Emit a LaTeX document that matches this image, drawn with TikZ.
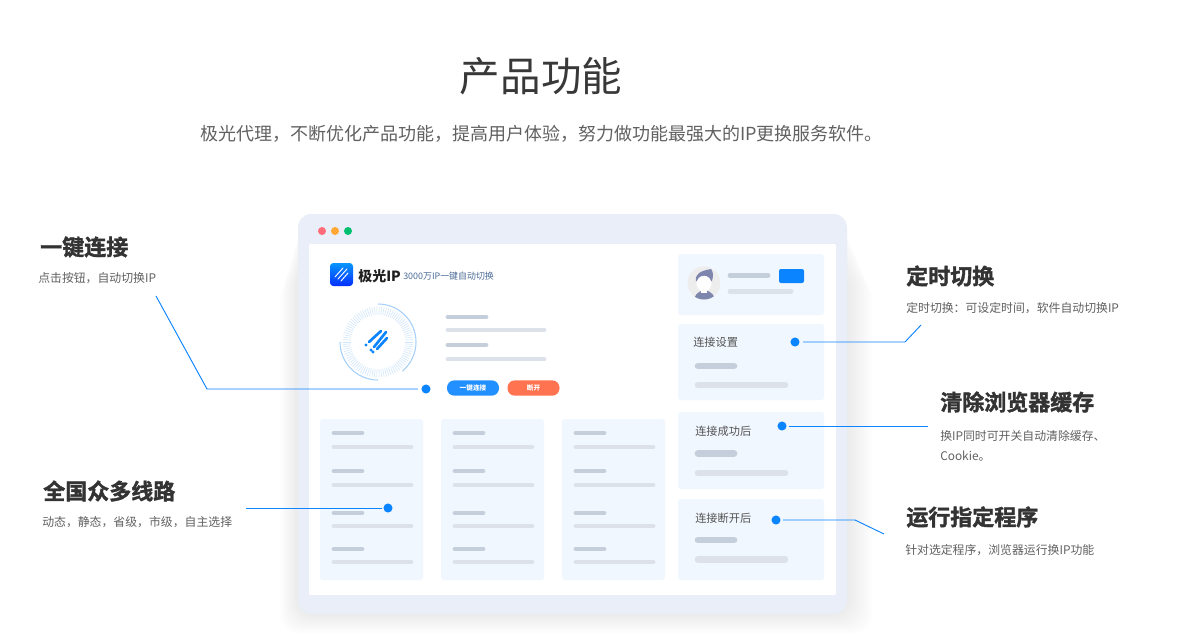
\documentclass[tikz,border=0pt]{standalone}
\usepackage{fontspec}
\setmainfont{Noto Sans CJK SC}
\newfontfamily\headfont[FakeBold=1.6]{Noto Sans CJK SC Bold}

\definecolor{framebg}{HTML}{E9EEF8}
\definecolor{panelbg}{HTML}{F1F7FF}
\definecolor{linkblue}{HTML}{0A84FF}
\definecolor{barone}{HTML}{C5CEDB}
\definecolor{bartwo}{HTML}{DDE2EA}
\definecolor{ringblue}{HTML}{A5D0F8}
\definecolor{hairblue}{HTML}{7F86AE}
\definecolor{dotred}{HTML}{FF6B78}
\definecolor{dotamber}{HTML}{FFA733}
\definecolor{dotgreen}{HTML}{00BF6F}
\definecolor{cutorange}{HTML}{FF7350}
\definecolor{slogantext}{HTML}{4A6A96}

\begin{document}
\begin{tikzpicture}[x=0.75pt,y=-0.75pt,
        panel/.style={fill=panelbg,rounded corners=2pt},
        headbar/.style={barone,line width=3.6pt,line cap=round},
        textbar/.style={bartwo,line width=3.6pt,line cap=round},
        headbarwide/.style={barone,line width=5pt,line cap=round},
        textbarwide/.style={bartwo,line width=5pt,line cap=round},
        link/.style={linkblue,line width=0.7pt},
        dot/.style={circle,fill=linkblue,inner sep=0pt,minimum size=6.8pt},
        headline/.style={anchor=west,inner sep=0pt,text=black!80,font=\headfont\fontsize{16.5}{20}\selectfont},
        note/.style={anchor=west,inner sep=0pt,text=black!62,font=\fontsize{8.9}{10}\selectfont},
        cardtitle/.style={anchor=west,inner sep=0pt,text=black!68,font=\fontsize{8.4}{10}\selectfont},
        pill/.style={rounded corners=5.5pt,minimum width=39pt,minimum height=11.5pt,inner sep=0pt,text=white,font=\bfseries\fontsize{5}{6}\selectfont}]
    \useasboundingbox (0,0) rectangle (1200,640);
    \fill[white] (0,0) rectangle (1200,640);

    % title
    \node[inner sep=0pt,text=black!78,font=\fontsize{30.4}{36}\selectfont] (title) at (541,76) {产品功能};
    \node[inner sep=0pt,text=black!62,font=\fontsize{13.5}{16}\selectfont] (subtitle) at (541.5,134)
        {极光代理，不断优化产品功能，提高用户体验，努力做功能最强大的IP更换服务软件。};

    % window
    \foreach \i in {1,...,20}
        \fill[black,opacity=0.005,rounded corners=14pt] (298-\i*0.9,222+\i*3) rectangle (847+\i*1.3,614+\i*1);
    \fill[framebg,rounded corners=10pt] (298,214) rectangle (847,614);
    \fill[white,rounded corners=1pt] (309,244) rectangle (836,595);
    \fill[dotred] (322,231) circle (3pt);
    \fill[dotamber] (335,231) circle (3pt);
    \fill[dotgreen] (348,231) circle (3pt);

    % logo
    \shade[top color=linkblue!85!cyan,bottom color=blue!65!linkblue,rounded corners=2.5pt] (330,263) rectangle (353,286);
    \draw[white,line width=0.7pt,line cap=round] (335,277) -- (343,268);
    \draw[white,line width=0.7pt,line cap=round] (338,279) -- (347,269);
    \draw[white,line width=0.7pt,line cap=round] (341,281) -- (348,273);
    \node[anchor=west,inner sep=0pt,text=black!88,font=\bfseries\fontsize{10.5}{12}\selectfont] (logotext) at (358,276) {极光IP};
    \node[anchor=west,inner sep=0pt,text=slogantext,font=\fontsize{6.7}{8}\selectfont] (slogan) at (403,276) {3000万IP一键自动切换};

    % dial
    \foreach \t in {0,4,...,356}
        \draw[ringblue!55,line width=0.4pt] (378,342) ++(\t:20.5pt) -- ++(\t:6pt);
    \draw[ringblue,line width=0.8pt] (378,342) ++(90:28.5pt) arc[start angle=90,end angle=-50,radius=28.5pt];
    \draw[ringblue,line width=0.8pt] (378,342) ++(-90:28.5pt) arc[start angle=-90,end angle=-180,radius=28.5pt];
    \draw[linkblue,line width=2pt,line cap=round] (369,342) -- (381,331);
    \draw[linkblue,line width=2pt,line cap=round] (374,347) -- (386,332);
    \draw[linkblue,line width=2pt,line cap=round] (377,349) -- (387,338);
    \fill[linkblue] (366,345) circle (1.2pt) (371,350) circle (1.2pt) (373,352) circle (1.2pt);

    % status bars
    \draw[headbar] (448,317) -- (486,317);
    \draw[textbar] (448,330) -- (544,330);
    \draw[headbar] (448,345) -- (486,345);
    \draw[textbar] (448,359) -- (544,359);
    \node[pill,fill=linkblue!90!white] (connect) at (473,388) {一键连接};
    \node[pill,fill=cutorange] (cut) at (533.5,388) {断开};

    % line cards
    \foreach \x in {320,441,562} {
        \fill[panel] (\x,419) rectangle (\x+103,580);
        \foreach \y/\z in {433/447,471/485,513/526,549/562} {
            \draw[headbar] (\x+14,\y) -- (\x+42,\y);
            \draw[textbar] (\x+14,\z) -- (\x+91,\z);
        }
    }

    % right panels
    \fill[panel] (678,254) rectangle (824,315);
    \fill[panel] (678,324) rectangle (824,400);
    \fill[panel] (678,412) rectangle (824,489);
    \fill[panel] (678,499) rectangle (824,580);
    \begin{scope}
        \clip (704,283) circle (12.4pt);
        \fill[black!7] (704,283) circle (12.4pt);
        \fill[hairblue] (704.5,303) ellipse (8.4pt and 9.5pt);
        \fill[hairblue] (696,281) .. controls (695,274) and (700,271) .. (711,269) .. controls (714,273) and (713,277) .. (712,281) -- cycle;
        \fill[white] (704,283.5) ellipse (5.6pt and 5.8pt);
        \fill[white] (701,286) rectangle (707,293);
    \end{scope}
    \draw[headbar] (730,275.5) -- (768,275.5);
    \draw[textbar] (730,291.5) -- (791,291.5);
    \fill[linkblue,rounded corners=1.5pt] (779,269) rectangle (804,283);
    \node[cardtitle] (setting) at (693,342) {连接设置};
    \node[cardtitle] (success) at (695,431) {连接成功后};
    \node[cardtitle] (broken) at (695,518) {连接断开后};
    \draw[headbarwide] (698,366) -- (734,366);
    \draw[textbarwide] (698,385) -- (785,385);
    \draw[headbarwide] (698,453.5) -- (734,453.5);
    \draw[textbarwide] (698,473) -- (785,473);
    \draw[headbarwide] (698,540) -- (734,540);
    \draw[textbarwide] (698,559.5) -- (785,559.5);

    % labels
    \node[headline] (keyhead) at (40,247) {一键连接};
    \node[note] (keynote) at (38,278) {点击按钮，自动切换IP};
    \node[headline] (linehead) at (43,491) {全国众多线路};
    \node[note] (linenote) at (42,522) {动态，静态，省级，市级，自主选择};
    \node[headline] (timehead) at (906,276) {定时切换};
    \node[note] (timenote) at (906,308) {定时切换：可设定时间，软件自动切换IP};
    \node[headline] (clearhead) at (940,402) {清除浏览器缓存};
    \node[note] (clearnote) at (940,436) {换IP同时可开关自动清除缓存、};
    \node[note] (clearnotetwo) at (940,456) {Cookie。};
    \node[headline] (runhead) at (906,517) {运行指定程序};
    \node[note] (runnote) at (905,550) {针对选定程序，浏览器运行换IP功能};

    % connectors
    \node[dot] (keydot) at (426,389) {};
    \node[dot] (linedot) at (388,508) {};
    \node[dot] (timedot) at (795,342) {};
    \node[dot] (cleardot) at (782,426) {};
    \node[dot] (rundot) at (776,520) {};
    \coordinate (keyend) at (156,296);
    \coordinate (keybend) at (207,389);
    \coordinate (lineend) at (246,508);
    \coordinate (timebend) at (905,342);
    \coordinate (timeend) at (921,325);
    \coordinate (clearend) at (928,426);
    \coordinate (runbend) at (855,520);
    \coordinate (runend) at (884,534);
    \draw[link,shorten >=2.5pt] (keyend) -- (keybend) -- (keydot);
    \draw[link,shorten >=1pt] (lineend) -- (linedot);
    \draw[link,shorten <=2.5pt] (timedot) -- (timebend) -- (timeend);
    \draw[link,shorten <=1.5pt] (cleardot) -- (clearend);
    \draw[link,shorten <=1.5pt] (rundot) -- (runbend) -- (runend);
\end{tikzpicture}
\end{document}
